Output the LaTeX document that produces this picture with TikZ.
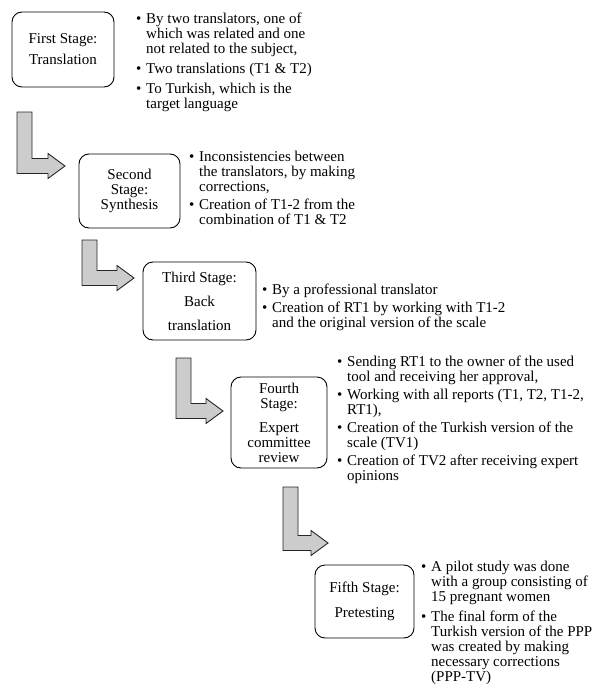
\documentclass[tikz,border=0pt]{standalone}
\usepackage{fontspec}
\setmainfont{Liberation Serif}
\usepackage{tikz}
\usetikzlibrary{positioning,calc}

% bent block arrow: left edge of shaft, top of shaft, middle of the foot, tip
\newcommand{\stagearrow}[4]{%
  \draw[bentarrow] (#1,#2) -- (#1+15,#2) |- (#4-17,#3-7.5) -- (#4-17,#3-12.5)
    -- (#4,#3) -- (#4-17,#3+12.5) -- (#4-17,#3+7.5) -- (#1,#3+7.5) -- cycle;
}

\begin{document}
\begin{tikzpicture}[x=1pt, y=-1pt,
    stage/.style={draw, line width=0.9pt, rounded corners=10pt, align=center, inner sep=2pt, font=\fontsize{15}{15}\selectfont},
    notes/.style={anchor=north west, inner sep=0pt, font=\fontsize{15}{15}\selectfont},
    bentarrow/.style={draw=black!85, fill=black!20, line width=0.9pt, line join=miter}]
    \useasboundingbox (0,0) rectangle (608,693);

    % stages
    \node[stage, minimum width=102pt, minimum height=75pt] (first) at (63,49.5) {First Stage:\\[6pt]Translation};
    \node[stage, minimum width=101pt, minimum height=74pt] (second) at (129.5,191) {Second\\Stage:\\Synthesis};
    \node[stage, minimum width=113pt, minimum height=78pt] (third) at (199.5,301) {Third Stage:\\[9pt]Back\\[9pt]translation};
    \node[stage, minimum width=96pt, minimum height=91pt] (fourth) at (279,422.5) {Fourth\\Stage:\\[9pt]Expert\\committee\\review};
    \node[stage, minimum width=99pt, minimum height=73pt] (fifth) at (364.5,601.5) {Fifth Stage:\\[10pt]Pretesting};

    % arrows between the stages
    \stagearrow{17}{112}{166}{65}
    \stagearrow{82}{240}{278}{134}
    \stagearrow{176}{358}{411}{223}
    \stagearrow{283}{487}{543}{328}

    % what was done in each stage
    \node[notes] (firstnotes) at (136,12.5) {\begin{tabular}{@{}p{10pt}@{}l@{}}
        \textbullet & By two translators, one of\\
        & which was related and one\\
        & not related to the subject,\\[5pt]
        \textbullet & Two translations (T1 \& T2)\\[5pt]
        \textbullet & To Turkish, which is the\\
        & target language
    \end{tabular}};
    \node[notes] (secondnotes) at (189,151) {\begin{tabular}{@{}p{10pt}@{}l@{}}
        \textbullet & Inconsistencies between\\
        & the translators, by making\\
        & corrections,\\[3pt]
        \textbullet & Creation of T1-2 from the\\
        & combination of T1 \& T2
    \end{tabular}};
    \node[notes] (thirdnotes) at (262,284) {\begin{tabular}{@{}p{10pt}@{}l@{}}
        \textbullet & By a professional translator\\[3pt]
        \textbullet & Creation of RT1 by working with T1-2\\
        & and the original version of the scale
    \end{tabular}};
    \node[notes] (fourthnotes) at (337,356) {\begin{tabular}{@{}p{10pt}@{}l@{}}
        \textbullet & Sending RT1 to the owner of the used\\
        & tool and receiving her approval,\\[3pt]
        \textbullet & Working with all reports (T1, T2, T1-2,\\
        & RT1),\\[3pt]
        \textbullet & Creation of the Turkish version of the\\
        & scale (TV1)\\[3pt]
        \textbullet & Creation of TV2 after receiving expert\\
        & opinions
    \end{tabular}};
    \node[notes] (fifthnotes) at (421,561) {\begin{tabular}{@{}p{10pt}@{}l@{}}
        \textbullet & A pilot study was done\\
        & with a group consisting of\\
        & 15 pregnant women\\[5pt]
        \textbullet & The final form of the\\
        & Turkish version of the PPP\\
        & was created by making\\
        & necessary corrections\\
        & (PPP-TV)
    \end{tabular}};
\end{tikzpicture}
\end{document}
